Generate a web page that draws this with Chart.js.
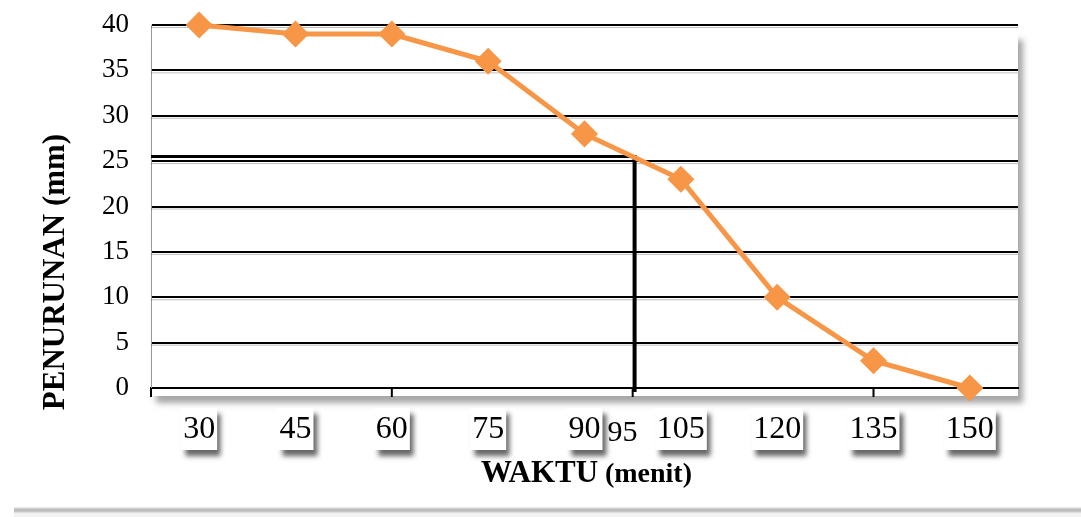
<!DOCTYPE html>
<html>
<head>
<meta charset="utf-8">
<script src="https://cdn.jsdelivr.net/npm/chart.js@4"></script>
<style>
html, body { margin: 0; padding: 0; background: #fff; }
#wrap { width: 1081px; height: 517px; position: relative; }
</style>
</head>
<body>
<div id="wrap"><canvas id="chart"></canvas></div>
<script>
// data
const waktu = ["30", "45", "60", "75", "90", "105", "120", "135", "150"];
const penurunan = [40, 39, 39, 36, 28, 23, 10, 3, 0];
const yMin = 0, yMax = 40, yStep = 5;

// the 95 minute marker (category index position, settlement value)
const markLabel = "95";
const markIndex = 4.52;
const markValue = 25.5;

const serif = "'Liberation Serif', 'Times New Roman', serif";

const decor = {
    id: "decor",
    beforeDraw(chart) {
        const { ctx, chartArea: a, scales: { x } } = chart;
        ctx.save();
        // light grey band at the bottom of the frame
        const g = ctx.createLinearGradient(0, 507, 0, 517);
        g.addColorStop(0, "rgba(0,0,0,0)");
        g.addColorStop(0.6, "#f0f0f0");
        g.addColorStop(1, "#f4f4f4");
        ctx.fillStyle = g;
        ctx.fillRect(14, 507, 1067, 10);

        // plot area shadow
        ctx.shadowColor = "rgba(0,0,0,0.35)";
        ctx.shadowBlur = 6;
        ctx.shadowOffsetX = 5;
        ctx.shadowOffsetY = 7;
        ctx.fillStyle = "#fff";
        ctx.fillRect(a.left, a.top + 8, a.width, a.height);

        // boxes behind the category labels
        ctx.font = "32px " + serif;
        ctx.shadowColor = "rgba(0,0,0,0.6)";
        ctx.shadowBlur = 5;
        ctx.shadowOffsetX = 4;
        ctx.shadowOffsetY = 6;
        waktu.forEach((lab, i) => {
            const cx = x.getPixelForValue(i);
            const w = ctx.measureText(lab).width + 4;
            ctx.fillRect(cx - w / 2, 408, w, 42);
        });
        ctx.restore();
    },
    beforeDatasetsDraw(chart) {
        const { ctx, chartArea: a, scales: { x, y } } = chart;
        ctx.save();
        // faint shadow under each gridline
        ctx.strokeStyle = "rgba(0,0,0,0.25)";
        ctx.lineWidth = 1;
        for (let v = yMin + yStep; v <= yMax; v += yStep) {
            const py = y.getPixelForValue(v) + 2.5;
            ctx.beginPath();
            ctx.moveTo(a.left, py);
            ctx.lineTo(a.right, py);
            ctx.stroke();
        }
        // reference lines for 95 minutes
        const mx = x.getPixelForValue(markIndex);
        const my = y.getPixelForValue(markValue);
        ctx.strokeStyle = "#000";
        ctx.lineWidth = 3;
        ctx.beginPath();
        ctx.moveTo(a.left, my);
        ctx.lineTo(mx, my);
        ctx.stroke();
        ctx.lineWidth = 4;
        ctx.beginPath();
        ctx.moveTo(mx, my - 1.5);
        ctx.lineTo(mx, a.bottom + 4);
        ctx.stroke();
        ctx.restore();
    },
    afterDraw(chart) {
        const { ctx, chartArea: a, scales: { x } } = chart;
        ctx.save();
        // tick marks below the axis
        ctx.strokeStyle = "#000";
        ctx.lineWidth = 2;
        [-0.5, 2, 4.5, 7].forEach(v => {
            const px = x.getPixelForValue(v);
            ctx.beginPath();
            ctx.moveTo(px, a.bottom);
            ctx.lineTo(px, a.bottom + 9);
            ctx.stroke();
        });
        ctx.fillStyle = "#000";
        // 95 label
        ctx.font = "30px " + serif;
        ctx.textAlign = "center";
        ctx.textBaseline = "middle";
        ctx.fillText(markLabel, x.getPixelForValue(markIndex) - 12, 433);

        // x title
        ctx.textAlign = "left";
        ctx.textBaseline = "alphabetic";
        ctx.font = "bold 31px " + serif;
        const t1 = "WAKTU ";
        ctx.fillText(t1, 481, 482);
        const w1 = ctx.measureText(t1).width;
        ctx.font = "bold 28px " + serif;
        ctx.fillText("(menit)", 481 + w1 - 1, 482);

        // y title
        ctx.translate(56, 272);
        ctx.rotate(-Math.PI / 2);
        ctx.textAlign = "center";
        ctx.textBaseline = "middle";
        ctx.font = "bold 31px " + serif;
        ctx.fillText("PENURUNAN (mm)", 0, 0);
        ctx.restore();
    }
};

new Chart(document.getElementById("chart"), {
    type: "line",
    data: {
        labels: waktu,
        datasets: [{
            data: penurunan,
            borderColor: "#F79646",
            backgroundColor: "#F79646",
            borderWidth: 5,
            pointStyle: "rectRot",
            pointRadius: 10,
            pointHoverRadius: 10,
            tension: 0,
            clip: false
        }]
    },
    options: {
        responsive: true,
        maintainAspectRatio: false,
        animation: false,
        layout: { padding: { top: 25, right: 63, left: 0, bottom: 0 } },
        plugins: {
            legend: { display: false },
            tooltip: { enabled: false }
        },
        scales: {
            x: {
                offset: true,
                grid: { display: false },
                border: { display: true, color: "#000", width: 2 },
                ticks: {
                    color: "#000",
                    font: { family: serif, size: 32 },
                    padding: 14,
                    maxRotation: 0,
                    autoSkip: false
                },
                afterFit(scale) { scale.height = 129; }
            },
            y: {
                min: yMin,
                max: yMax,
                grid: { color: "#000", lineWidth: 2, drawTicks: true, tickLength: 16, tickColor: "rgba(0,0,0,0)" },
                border: { display: true, color: "#999", width: 1 },
                ticks: {
                    stepSize: yStep,
                    color: "#000",
                    font: { family: serif, size: 27 },
                    padding: 6
                },
                afterFit(scale) { scale.width = 151; }
            }
        }
    },
    plugins: [decor]
});
</script>
</body>
</html>
